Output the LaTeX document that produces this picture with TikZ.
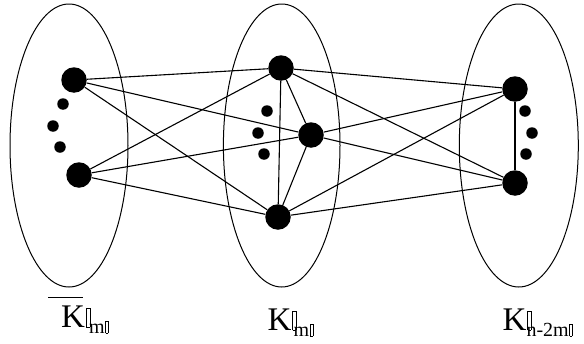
\documentclass[tikz,border=0pt]{standalone}
\usepackage{fontspec}
\setmainfont{Liberation Serif}
\newcommand{\tofubox}[2]{\hbox{\vrule width 0.5pt\vbox to #2{\hrule width #1\vfill\hrule}\vrule width 0.5pt}}
\begin{document}
\begin{tikzpicture}[x=1pt,y=-1pt,
  big/.style={circle,fill=black,inner sep=0pt,minimum size=25.5pt},
  small/.style={circle,fill=black,inner sep=0pt,minimum size=11.5pt},
  edge/.style={line width=1.1pt},
  part/.style={draw,line width=1pt},
  lbl/.style={anchor=base west,inner sep=0pt,font=\fontsize{33}{33}\selectfont}]
\useasboundingbox (0,0) rectangle (584,343);
% ellipses
\draw[part] (69,145.5) ellipse [x radius=59, y radius=141.5];
\draw[part] (281.7,145.5) ellipse [x radius=58.3, y radius=141.5];
\draw[part] (518.8,145.5) ellipse [x radius=59.5, y radius=141.5];
% left group
\node[big] (a1) at (74,80) {};
\node[big] (a2) at (79,175) {};
\node[small] (as1) at (63,104) {};
\node[small] (as2) at (53,126) {};
\node[small] (as3) at (60,147) {};
% middle group
\node[big] (b1) at (281,68) {};
\node[big] (b2) at (311,135) {};
\node[big] (b3) at (278,217) {};
\node[small] (bs1) at (267,111) {};
\node[small] (bs2) at (258,133) {};
\node[small] (bs3) at (264,154) {};
% right group
\node[big] (c1) at (515,89) {};
\node[big] (c2) at (515,183) {};
\node[small] (cs1) at (525,111) {};
\node[small] (cs2) at (532,133) {};
\node[small] (cs3) at (526,154) {};
% edges
\foreach \u in {a1,a2} \foreach \v in {b1,b2,b3} \draw[edge] (\u) -- (\v);
\foreach \u in {b1,b2,b3} \foreach \v in {c1,c2} \draw[edge] (\u) -- (\v);
\draw[edge] (b1) -- (b2);
\draw[edge] (b1) -- (b3);
\draw[edge] (b2) -- (b3);
\draw[edge] (c1) -- (c2);
% labels
\node[lbl] (la) at (61,327) {\makebox[0pt][l]{\hspace{-13pt}\raisebox{29.5pt}{\rule{35pt}{0.9pt}}}K\kern0.5pt\tofubox{3.5pt}{19pt}\kern-1pt\raisebox{-6pt}{\fontsize{20}{20}\selectfont m\kern0.5pt\tofubox{2.5pt}{12pt}}};
\node[lbl] (lb) at (267.5,330) {K\kern0.5pt\tofubox{3.5pt}{19pt}\kern-3pt\raisebox{-6pt}{\fontsize{20}{20}\selectfont m\kern0.5pt\tofubox{2.5pt}{12pt}}};
\node[lbl] (lc) at (502.5,330) {K\kern0.5pt\tofubox{3.5pt}{19pt}\kern-5pt\raisebox{-6pt}{\fontsize{20}{20}\selectfont n-2m\kern0.5pt\tofubox{2.5pt}{12pt}}};
\end{tikzpicture}
\end{document}
